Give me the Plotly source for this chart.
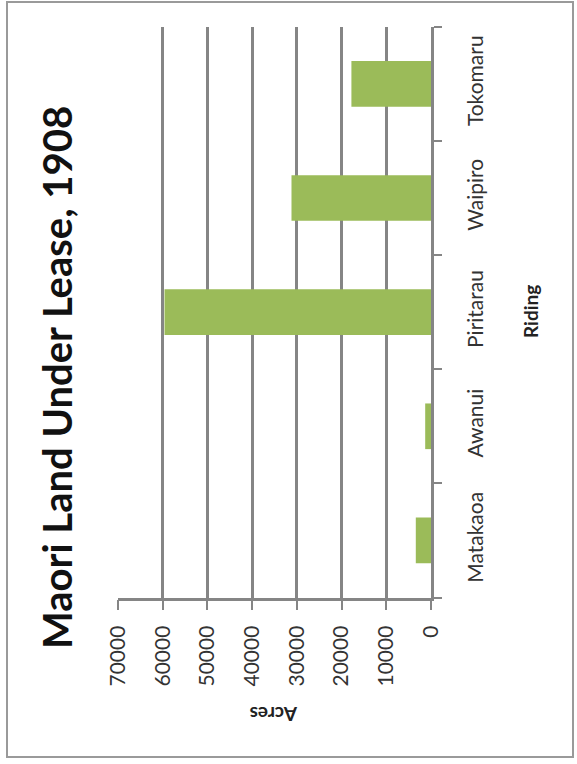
import plotly.graph_objects as go

# Riding names, listed from the bottom of the category axis to the top
ridings = ["Matakaoa", "Awanui", "Piritarau", "Waipiro", "Tokomaru"]
# Acres under lease per riding
acres = [3400, 1300, 59600, 31200, 17800]
# Value-axis ticks
acre_ticks = [0, 10000, 20000, 30000, 40000, 50000, 60000, 70000]

W, H = 577, 764
GRID = "#858585"
TXT = "#333333"
FONT = "Lato"

fig = go.Figure(
    go.Bar(
        x=acres,
        y=ridings,
        orientation="h",
        marker=dict(color="#9bbb59", line=dict(width=0)),
    )
)

fig.update_layout(
    width=W,
    height=H,
    margin=dict(l=0, r=0, t=0, b=0),
    paper_bgcolor="white",
    plot_bgcolor="white",
    bargap=0.6,
    showlegend=False,
    font=dict(family=FONT, color=TXT),
    xaxis=dict(
        domain=[118 / W, 431 / W],
        range=[70000, 0],
        tickvals=acre_ticks,
        ticktext=[str(v) for v in acre_ticks],
        tickangle=-90,
        tickfont=dict(size=21, color=TXT, family=FONT),
        showgrid=True,
        gridcolor=GRID,
        gridwidth=2.5,
        zeroline=False,
        showline=True,
        linecolor=GRID,
        linewidth=2.5,
        ticks="outside",
        ticklen=10,
        tickwidth=2,
        tickcolor=GRID,
        ticklabelstandoff=7,
        automargin=False,
        fixedrange=True,
    ),
    yaxis=dict(
        domain=[1 - 597.5 / H, 1 - 26.8 / H],
        side="right",
        type="category",
        categoryorder="array",
        categoryarray=ridings,
        tickangle=-90,
        tickfont=dict(size=21, color=TXT, family=FONT),
        showgrid=False,
        zeroline=False,
        showline=True,
        linecolor=GRID,
        linewidth=2.5,
        ticks="outside",
        tickson="boundaries",
        ticklen=8,
        tickwidth=2,
        tickcolor=GRID,
        ticklabelstandoff=24,
        automargin=False,
        fixedrange=True,
    ),
    shapes=[
        dict(
            type="rect",
            xref="paper",
            yref="paper",
            x0=7 / W,
            x1=573 / W,
            y0=1 - 757 / H,
            y1=1 - 2 / H,
            line=dict(color="#9a9a9a", width=2),
            fillcolor="rgba(0,0,0,0)",
        )
    ],
    annotations=[
        dict(
            text="<b>Maori Land Under Lease, 1908</b>",
            xref="paper",
            yref="paper",
            x=57 / W,
            y=1 - 378 / H,
            xanchor="center",
            yanchor="middle",
            textangle=-90,
            showarrow=False,
            font=dict(size=40, color="#111111", family=FONT),
        ),
        dict(
            text="<b>Riding</b>",
            xref="paper",
            yref="paper",
            x=530 / W,
            y=1 - 312 / H,
            xanchor="center",
            yanchor="middle",
            textangle=-90,
            showarrow=False,
            font=dict(size=19, color="#222222", family=FONT),
        ),
        dict(
            text="<b>Acres</b>",
            xref="paper",
            yref="paper",
            x=274 / W,
            y=1 - 715 / H,
            xanchor="center",
            yanchor="middle",
            textangle=180,
            showarrow=False,
            font=dict(size=19, color="#222222", family=FONT),
        ),
    ],
)

fig.write_html("out.html")
